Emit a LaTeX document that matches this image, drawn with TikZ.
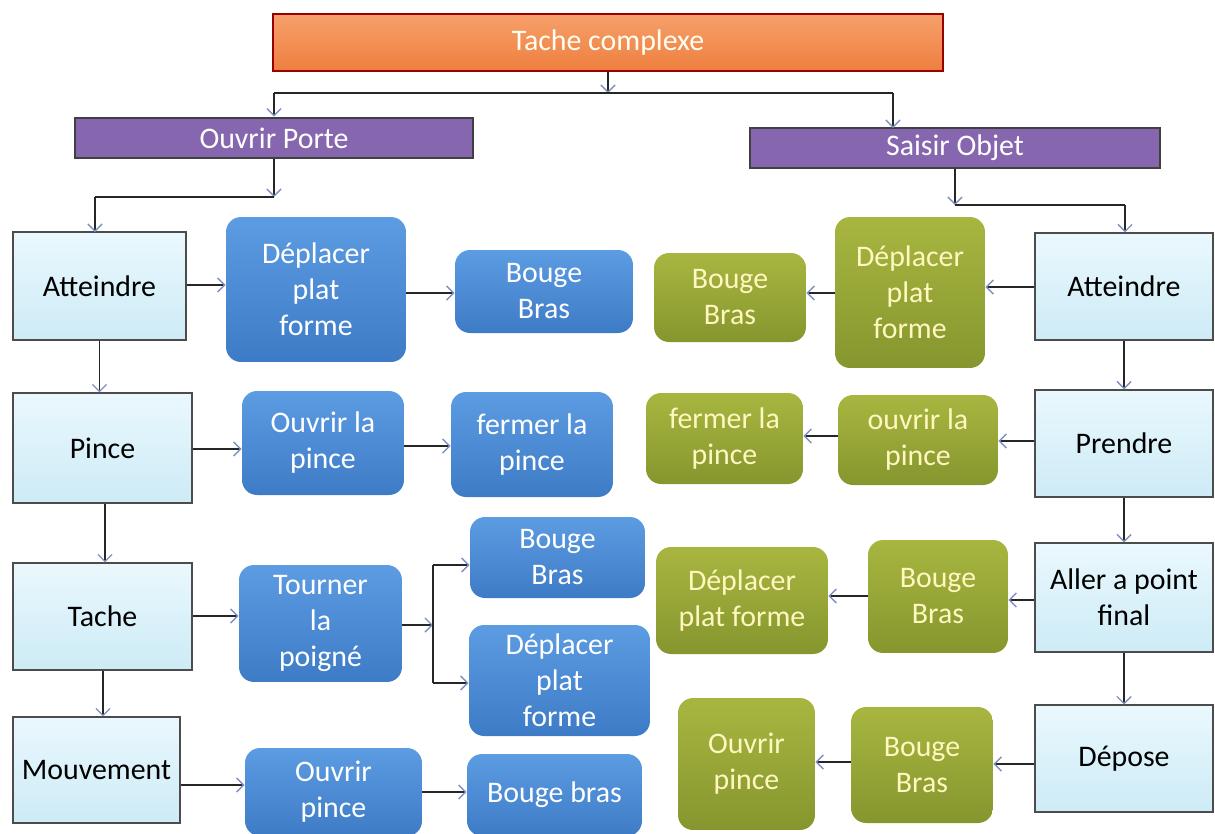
\documentclass[tikz,border=0pt]{standalone}
\usepackage{fontspec}
\setmainfont{Carlito}
\usetikzlibrary{arrows.meta}
\definecolor{orangetop}{HTML}{F7A06A}
\definecolor{orangebot}{HTML}{EE7F3F}
\definecolor{purpfill}{HTML}{8666AE}
\definecolor{bluetop}{HTML}{5C9CE2}
\definecolor{bluebot}{HTML}{3E7BC6}
\definecolor{greentop}{HTML}{A8B640}
\definecolor{greenbot}{HTML}{86962E}
\definecolor{greentext}{HTML}{FFF7C0}
\definecolor{cyantop}{HTML}{EAF8FD}
\definecolor{cyanbot}{HTML}{CDEBF6}
\definecolor{tipcol}{HTML}{7F8FC0}
\begin{document}
\begin{tikzpicture}[x=0.02cm, y=-0.02cm,
	every node/.style={font=\fontsize{17}{20.5}\selectfont, align=center, inner sep=2pt},
	topbox/.style={shape=rectangle, draw=red!60!black, line width=1pt, top color=orangetop, bottom color=orangebot, text=white!95!yellow},
	goalbox/.style={shape=rectangle, draw=black!75, line width=1.5pt, fill=purpfill, text=white, minimum height=0.8cm},
	stagebox/.style={shape=rectangle, draw=black!70, line width=0.6pt, top color=cyantop, bottom color=cyanbot, text=black},
	bluebox/.style={shape=rectangle, rounded corners=0.3cm, top color=bluetop, bottom color=bluebot, text=white},
	greenbox/.style={shape=rectangle, rounded corners=0.3cm, top color=greentop, bottom color=greenbot, text=greentext},
	arr/.style={draw=black!85, line width=0.8pt, -{Straight Barb[length=4pt, width=8pt, color=tipcol]}},
	wire/.style={draw=black!85, line width=0.8pt}]
	\useasboundingbox (0,0) rectangle (1215,833);
	% Main task and sub-goals:
	\node[topbox, minimum width=13.4cm, minimum height=1.14cm] (tache) at (608, 42.5){Tache complexe};
	\node[goalbox, minimum width=7.96cm] (porte) at (274, 138){Ouvrir Porte};
	\node[goalbox, minimum width=8.2cm] (objet) at (955, 148){Saisir Objet};
	\coordinate (jtop) at (608, 93);
	\draw[arr] (tache.south) -- (jtop);
	\draw[wire] (274, 93) -- (893, 93);
	\draw[arr] (274, 93) -- (porte.north);
	\draw[arr] (893, 93) -- (893, 128);
	% Left column (Ouvrir Porte):
	\node[stagebox, minimum width=3.46cm, minimum height=2.16cm] (attL) at (99.5, 286){Atteindre};
	\node[stagebox, minimum width=3.58cm, minimum height=2.2cm] (pince) at (102.5, 448){Pince};
	\node[stagebox, minimum width=3.58cm, minimum height=2.14cm] (tacheL) at (102.5, 616.5){Tache};
	\node[stagebox, minimum width=3.34cm, minimum height=2.12cm] (mouv) at (96.5, 770){Mouvement};
	\coordinate (jporte) at (274, 197);
	\draw[arr] (porte.south) -- (jporte);
	\draw[wire] (jporte) -- (95, 197);
	\draw[arr] (95, 197) -- (95, 232);
	\draw[arr] (attL.south) -- (pince.north -| attL.south);
	\draw[arr] (pince.south -| 105, 0) -- (tacheL.north -| 105, 0);
	\draw[arr] (tacheL.south -| 103, 0) -- (mouv.north -| 103, 0);
	\node[bluebox, minimum width=3.6cm, minimum height=2.9cm] (depL) at (316, 289.5){Déplacer\\plat\\forme};
	\node[bluebox, minimum width=3.56cm, minimum height=1.66cm] (brasL) at (544, 291.5){Bouge\\Bras};
	\node[bluebox, minimum width=3.24cm, minimum height=2.08cm] (ouvL) at (323, 443){Ouvrir la\\pince};
	\node[bluebox, minimum width=3.24cm, minimum height=2.1cm] (fermL) at (532, 444.5){fermer la\\pince};
	\node[bluebox, minimum width=3.26cm, minimum height=2.34cm] (tourner) at (320.5, 623.5){Tourner\\la\\poigné};
	\node[bluebox, minimum width=3.5cm, minimum height=1.62cm] (brasL2) at (557.5, 557.5){Bouge\\Bras};
	\node[bluebox, minimum width=3.62cm, minimum height=2.22cm] (depL2) at (559.5, 680.5){Déplacer\\plat\\forme};
	\node[bluebox, minimum width=3.54cm, minimum height=1.76cm] (pinceL) at (333.5, 792){Ouvrir\\pince};
	\node[bluebox, minimum width=3.5cm, minimum height=1.64cm] (brasL3) at (554.5, 795){Bouge bras};
	\draw[arr] (attL.east |- 0, 285) -- (depL.west |- 0, 285);
	\draw[arr] (depL.east |- 0, 293) -- (brasL.west |- 0, 293);
	\draw[arr] (pince.east |- 0, 449) -- (ouvL.west |- 0, 449);
	\draw[arr] (ouvL.east |- 0, 446) -- (fermL.west |- 0, 446);
	\draw[arr] (tacheL.east |- 0, 616) -- (tourner.west |- 0, 616);
	\coordinate (fork) at (433, 625);
	\draw[arr] (tourner.east |- fork) -- (fork);
	\draw[wire] (433, 565) -- (433, 683);
	\draw[arr] (433, 565) -- (brasL2.west |- 0, 565);
	\draw[arr] (433, 683) -- (depL2.west |- 0, 683);
	\draw[arr] (mouv.east |- 0, 785) -- (pinceL.west |- 0, 785);
	\draw[arr] (pinceL.east |- 0, 792) -- (brasL3.west |- 0, 792);
	% Right column (Saisir Objet):
	\node[stagebox, minimum width=3.56cm, minimum height=2.14cm] (attR) at (1124, 286.5){Atteindre};
	\node[stagebox, minimum width=3.56cm, minimum height=2.14cm] (prendre) at (1124, 443.5){Prendre};
	\node[stagebox, minimum width=3.56cm, minimum height=2.18cm] (aller) at (1124, 597.5){Aller a point\\final};
	\node[stagebox, minimum width=3.56cm, minimum height=2.14cm] (depose) at (1124, 758.5){Dépose};
	\coordinate (jobjet) at (955, 205);
	\draw[arr] (objet.south -| jobjet) -- (jobjet);
	\draw[wire] (jobjet) -- (1125, 205);
	\draw[arr] (1125, 205) -- (attR.north -| 1125, 205);
	\draw[arr] (attR.south) -- (prendre.north);
	\draw[arr] (prendre.south) -- (aller.north);
	\draw[arr] (aller.south) -- (depose.north);
	\node[greenbox, minimum width=3.0cm, minimum height=3.02cm] (depR) at (910, 292.5){Déplacer\\plat\\forme};
	\node[greenbox, minimum width=3.04cm, minimum height=1.78cm] (brasR) at (730, 297.5){Bouge\\Bras};
	\node[greenbox, minimum width=3.2cm, minimum height=1.8cm] (ouvR) at (918, 440){ouvrir la\\pince};
	\node[greenbox, minimum width=3.14cm, minimum height=1.82cm] (fermR) at (724.5, 438.5){fermer la\\pince};
	\node[greenbox, minimum width=2.8cm, minimum height=2.26cm] (brasR2) at (938, 596.5){Bouge\\Bras};
	\node[greenbox, minimum width=3.44cm, minimum height=2.14cm] (depR2) at (742, 600.5){Déplacer\\plat forme};
	\node[greenbox, minimum width=2.84cm, minimum height=2.32cm] (brasR3) at (922, 765){Bouge\\Bras};
	\node[greenbox, minimum width=2.74cm, minimum height=2.64cm] (pinceR) at (746.5, 764){Ouvrir\\pince};
	\draw[arr] (attR.west |- 0, 287) -- (depR.east |- 0, 287);
	\draw[arr] (depR.west |- 0, 293) -- (brasR.east |- 0, 293);
	\draw[arr] (prendre.west |- 0, 441) -- (ouvR.east |- 0, 441);
	\draw[arr] (ouvR.west |- 0, 436) -- (fermR.east |- 0, 436);
	\draw[arr] (aller.west |- 0, 600) -- (brasR2.east |- 0, 600);
	\draw[arr] (brasR2.west |- 0, 596) -- (depR2.east |- 0, 596);
	\draw[arr] (depose.west |- 0, 764) -- (brasR3.east |- 0, 764);
	\draw[arr] (brasR3.west |- 0, 762) -- (pinceR.east |- 0, 762);
\end{tikzpicture}
\end{document}
